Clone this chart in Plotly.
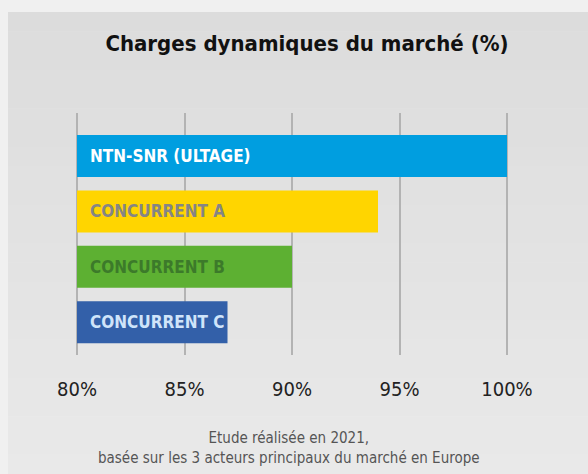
import plotly.graph_objects as go

categories = ["NTN-SNR (ULTAGE)", "CONCURRENT A", "CONCURRENT B", "CONCURRENT C"]
values = [100, 94, 90, 87]
bar_colors = ["#009EE0", "#FFD500", "#5DB032", "#3360A9"]
label_colors = ["#FFFFFF", "#858585", "#3C7A2A", "#CFE4FA"]
tick_vals = [80, 85, 90, 95, 100]
tick_text = ["80%", "85%", "90%", "95%", "100%"]
title_text = "Charges dynamiques du marché (%)"
footer_text = "Etude réalisée en 2021,<br>basée sur les 3 acteurs principaux du marché en Europe"

FONT = "Liberation Sans Narrow, DejaVu Sans Condensed, Roboto Condensed, Arial Narrow, Liberation Sans, sans-serif"

W, H = 588, 474
ML, MR, MT, MB = 75, 79, 113, 119
pw, ph = W - ML - MR, H - MT - MB
XMIN, XMAX = 79.907, 100.093
BASE = 80

def px_x(x):
    return (x - ML) / pw

def px_y(y):
    return (H - MB - y) / ph

fig = go.Figure()
fig.add_trace(go.Bar(
    y=list(range(len(categories))),
    x=[v - BASE for v in values],
    base=BASE,
    orientation="h",
    marker=dict(color=bar_colors, line=dict(width=0)),
    hovertext=categories,
    hoverinfo="text",
))

shapes = []
top, bottom = 12, H
n = 24
c0, c1 = 220, 233
for i in range(n):
    y0 = top + (bottom - top) * i / n
    y1 = top + (bottom - top) * (i + 1) / n
    c = round(c0 + (c1 - c0) * i / (n - 1))
    shapes.append(dict(type="rect", xref="paper", yref="paper",
                       x0=px_x(8), x1=px_x(W + 2), y0=px_y(y1 + 0.5), y1=px_y(y0),
                       fillcolor=f"rgb({c},{c},{c})", line=dict(width=0), layer="below"))

annotations = []
for i, (cat, col) in enumerate(zip(categories, label_colors)):
    annotations.append(dict(x=BASE, y=i, xref="x", yref="y", text=cat, showarrow=False,
                            xanchor="left", yanchor="middle", xshift=11,
                            font=dict(family=FONT, size=17, color=col, weight="bold")))
annotations.append(dict(x=px_x(289), y=px_y(448), xref="paper", yref="paper", text=footer_text,
                        showarrow=False, xanchor="center", yanchor="middle",
                        font=dict(family=FONT, size=15, color="#555555")))

fig.update_layout(
    width=W, height=H,
    margin=dict(l=ML, r=MR, t=MT, b=MB, pad=0),
    paper_bgcolor="#F0F0F0",
    plot_bgcolor="rgba(0,0,0,0)",
    showlegend=False,
    bargap=0.243,
    title=dict(text=title_text, x=307 / W, xanchor="center", xref="container",
               y=1 - 43 / H, yanchor="middle",
               font=dict(family=FONT, size=22, color="#111111", weight="bold")),
    xaxis=dict(range=[XMIN, XMAX], tickvals=tick_vals, ticktext=tick_text, showgrid=True,
               gridcolor="#B3B3B3", gridwidth=2, zeroline=False, showline=False, ticks="",
               ticklabelstandoff=20,
               tickfont=dict(family=FONT, size=20, color="#222222")),
    yaxis=dict(range=[3.59, -0.775], showticklabels=False, showgrid=False, zeroline=False,
               showline=False, ticks=""),
    shapes=shapes,
    annotations=annotations,
)

fig.write_html("out.html", config={"displayModeBar": False},
               post_script="document.body.style.margin='0';document.body.style.background='#F0F0F0';")
